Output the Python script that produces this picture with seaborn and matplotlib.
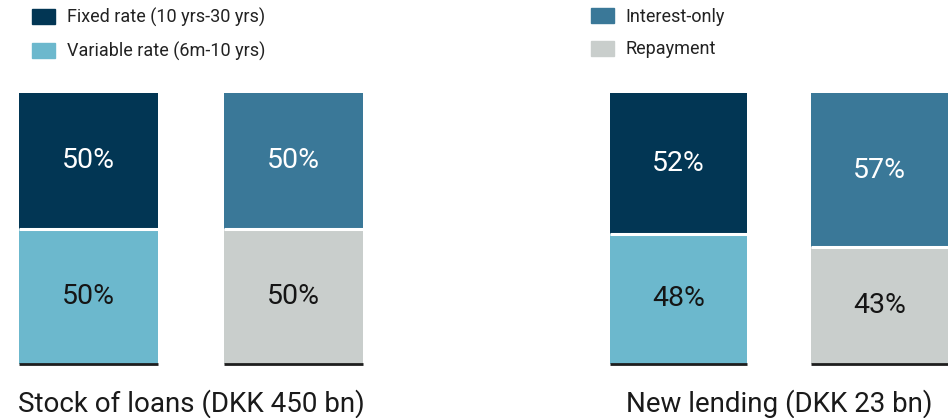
import matplotlib
matplotlib.use("Agg")
import matplotlib.pyplot as plt
import seaborn as sns
import pandas as pd
from matplotlib.patches import Patch

# Loan portfolio split: stock of loans vs new lending
panels = ["Stock of loans (DKK 450 bn)", "New lending (DKK 23 bn)"]
bars = ["Rate type", "Repayment type"]
fixed_rate = [50, 52]
variable_rate = [50, 48]
interest_only = [50, 57]
repayment = [50, 43]

seg_fixed = "Fixed rate (10 yrs-30 yrs)"
seg_variable = "Variable rate (6m-10 yrs)"
seg_io = "Interest-only"
seg_repay = "Repayment"
palette = {
    seg_fixed: "#023654",
    seg_variable: "#6CB8CD",
    seg_io: "#3A7898",
    seg_repay: "#C9CECC",
}
label_color = {
    seg_fixed: "white",
    seg_variable: "#151515",
    seg_io: "white",
    seg_repay: "#151515",
}

rows = []
for i, panel in enumerate(panels):
    for bar, (up_name, up_vals), (lo_name, lo_vals) in [
        (bars[0], (seg_fixed, fixed_rate), (seg_variable, variable_rate)),
        (bars[1], (seg_io, interest_only), (seg_repay, repayment)),
    ]:
        lo = lo_vals[i]
        up = up_vals[i]
        rows.append(dict(panel=panel, bar=bar, segment=lo_name, layer="lower",
                         value=lo, bottom=0, top=lo))
        rows.append(dict(panel=panel, bar=bar, segment=up_name, layer="upper",
                         value=up, bottom=lo, top=lo + up))
df = pd.DataFrame(rows)

sns.set_theme(style="white")
plt.rcParams["font.family"] = ["Roboto", "DejaVu Sans"]

W, H = 948, 418
fig = plt.figure(figsize=(W / 100, H / 100), dpi=100)

bar_width = 0.68
ax_boxes = [(19, 344), (610, 338)]
ax_bottom, ax_height = 54, 271

for panel, (left, width) in zip(panels, ax_boxes):
    ax = fig.add_axes([left / W, ax_bottom / H, width / W, ax_height / H])
    sub = df[df.panel == panel]
    upper = sub[sub.layer == "upper"]
    lower = sub[sub.layer == "lower"]
    # upper segments drawn to the stack top, lower segments laid over them
    sns.barplot(data=upper, x="bar", y="top", hue="segment", palette=palette,
                order=bars, dodge=False, width=bar_width, saturation=1,
                errorbar=None, legend=False, linewidth=0, ax=ax)
    sns.barplot(data=lower, x="bar", y="value", hue="segment", palette=palette,
                order=bars, dodge=False, width=bar_width, saturation=1,
                errorbar=None, legend=False, linewidth=0, ax=ax)
    for j, bar in enumerate(bars):
        b = sub[sub.bar == bar]
        lo = b[b.layer == "lower"].iloc[0]
        up = b[b.layer == "upper"].iloc[0]
        x0, x1 = j - bar_width / 2, j + bar_width / 2
        # white gap between the two segments
        ax.hlines(lo.top, x0, x1, color="white", linewidth=2.2, zorder=5)
        # baseline under each bar
        ax.hlines(0, x0, x1, color="#1E1E1E", linewidth=2, zorder=6, clip_on=False)
        for seg in (lo, up):
            ax.text(j, seg.bottom + seg.value / 2, f"{seg.value:.0f}%",
                    ha="center", va="center", color=label_color[seg.segment],
                    fontsize=20.5, zorder=7)
    ax.set_xlim(-bar_width / 2, 1 + bar_width / 2)
    ax.set_ylim(0, 100)
    ax.axis("off")
    ax.text(0.5, -0.175, panel, transform=ax.transAxes, ha="center", va="baseline",
            fontsize=20, color="#1A1A1A")

legend_kw = dict(loc="upper left", frameon=False, fontsize=13, borderpad=0,
                 borderaxespad=0, handlelength=1.26, handleheight=0.87,
                 handletextpad=0.66, labelspacing=0.8, labelcolor="#222222")
fig.legend(handles=[Patch(color=palette[seg_fixed], label=seg_fixed),
                    Patch(color=palette[seg_variable], label=seg_variable)],
           bbox_to_anchor=(32 / W, 1 - 8 / H), **legend_kw)
fig.legend(handles=[Patch(color=palette[seg_io], label=seg_io),
                    Patch(color=palette[seg_repay], label=seg_repay)],
           bbox_to_anchor=(591 / W, 1 - 8 / H), **legend_kw)

fig.savefig("out.png", dpi=100)
